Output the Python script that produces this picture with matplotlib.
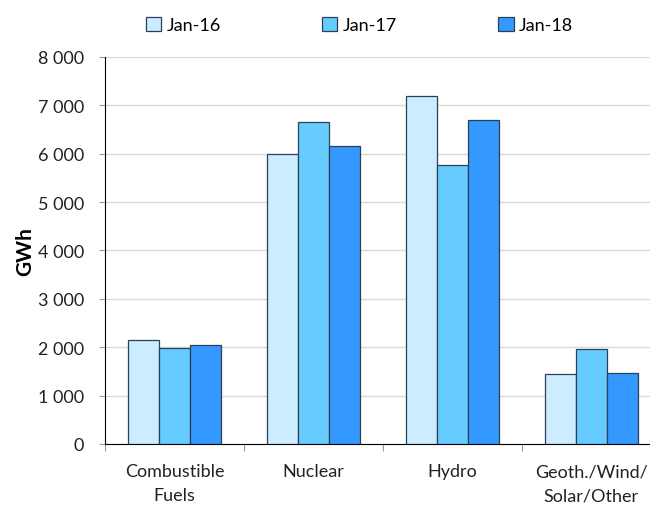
import numpy as np
import matplotlib
matplotlib.use('Agg')
from matplotlib import pyplot as plt
from matplotlib.ticker import FuncFormatter

categories = ['Combustible\nFuels', 'Nuclear', 'Hydro', 'Geoth./Wind/\nSolar/Other']
series = ['Jan-16', 'Jan-17', 'Jan-18']
jan16 = [2150, 6000, 7200, 1450]
jan17 = [1980, 6650, 5760, 1960]
jan18 = [2050, 6160, 6690, 1470]
colors = ['#CCECFF', '#66CCFF', '#3399FF']

plt.rcParams['font.family'] = ['Lato', 'DejaVu Sans']

fig = plt.figure(figsize=(6.5, 5.06), dpi=100)
ax = fig.add_axes([0.1615, 0.1206, 0.855, 0.765])

x = np.arange(len(categories))
w = 0.222
for i, (vals, lab, col) in enumerate(zip([jan16, jan17, jan18], series, colors)):
    ax.bar(x + (i - 1) * w, vals, w, color=col, edgecolor='#2f3f55',
           linewidth=0.9, label=lab, zorder=3)

ax.set_xlim(-0.5, 3.5)
ax.set_ylim(0, 8000)
ax.set_yticks(np.arange(0, 8001, 1000))
ax.yaxis.set_major_formatter(FuncFormatter(lambda v, p: '{:,}'.format(int(v)).replace(',', ' ')))
ax.grid(axis='y', color='#d9d9d9', linewidth=1, zorder=0)

ax.set_xticks(np.arange(-0.5, 4, 1))
ax.set_xticklabels([])
ax.set_xticks(x, minor=True)
ax.set_xticklabels(categories, minor=True, fontsize=13, color='#222222',
                   linespacing=1.6)
ax.tick_params(axis='x', which='minor', length=0, pad=14)
ax.tick_params(axis='x', which='major', length=5, color='#999999')
ax.tick_params(axis='y', length=4, color='#999999', labelsize=13,
               labelcolor='#222222', pad=11)

for s in ['top', 'right']:
    ax.spines[s].set_visible(False)
ax.spines['left'].set_color('black')
ax.spines['bottom'].set_color('black')

ax.set_ylabel('GWh', fontsize=15, fontweight='bold', labelpad=2)

ax.legend(loc='upper center', bbox_to_anchor=(0.458, 1.145), ncol=3, frameon=False,
          fontsize=13, columnspacing=5.6, handlelength=0.85, handleheight=0.85,
          handletextpad=0.3)

fig.savefig('out.png', dpi=100)
